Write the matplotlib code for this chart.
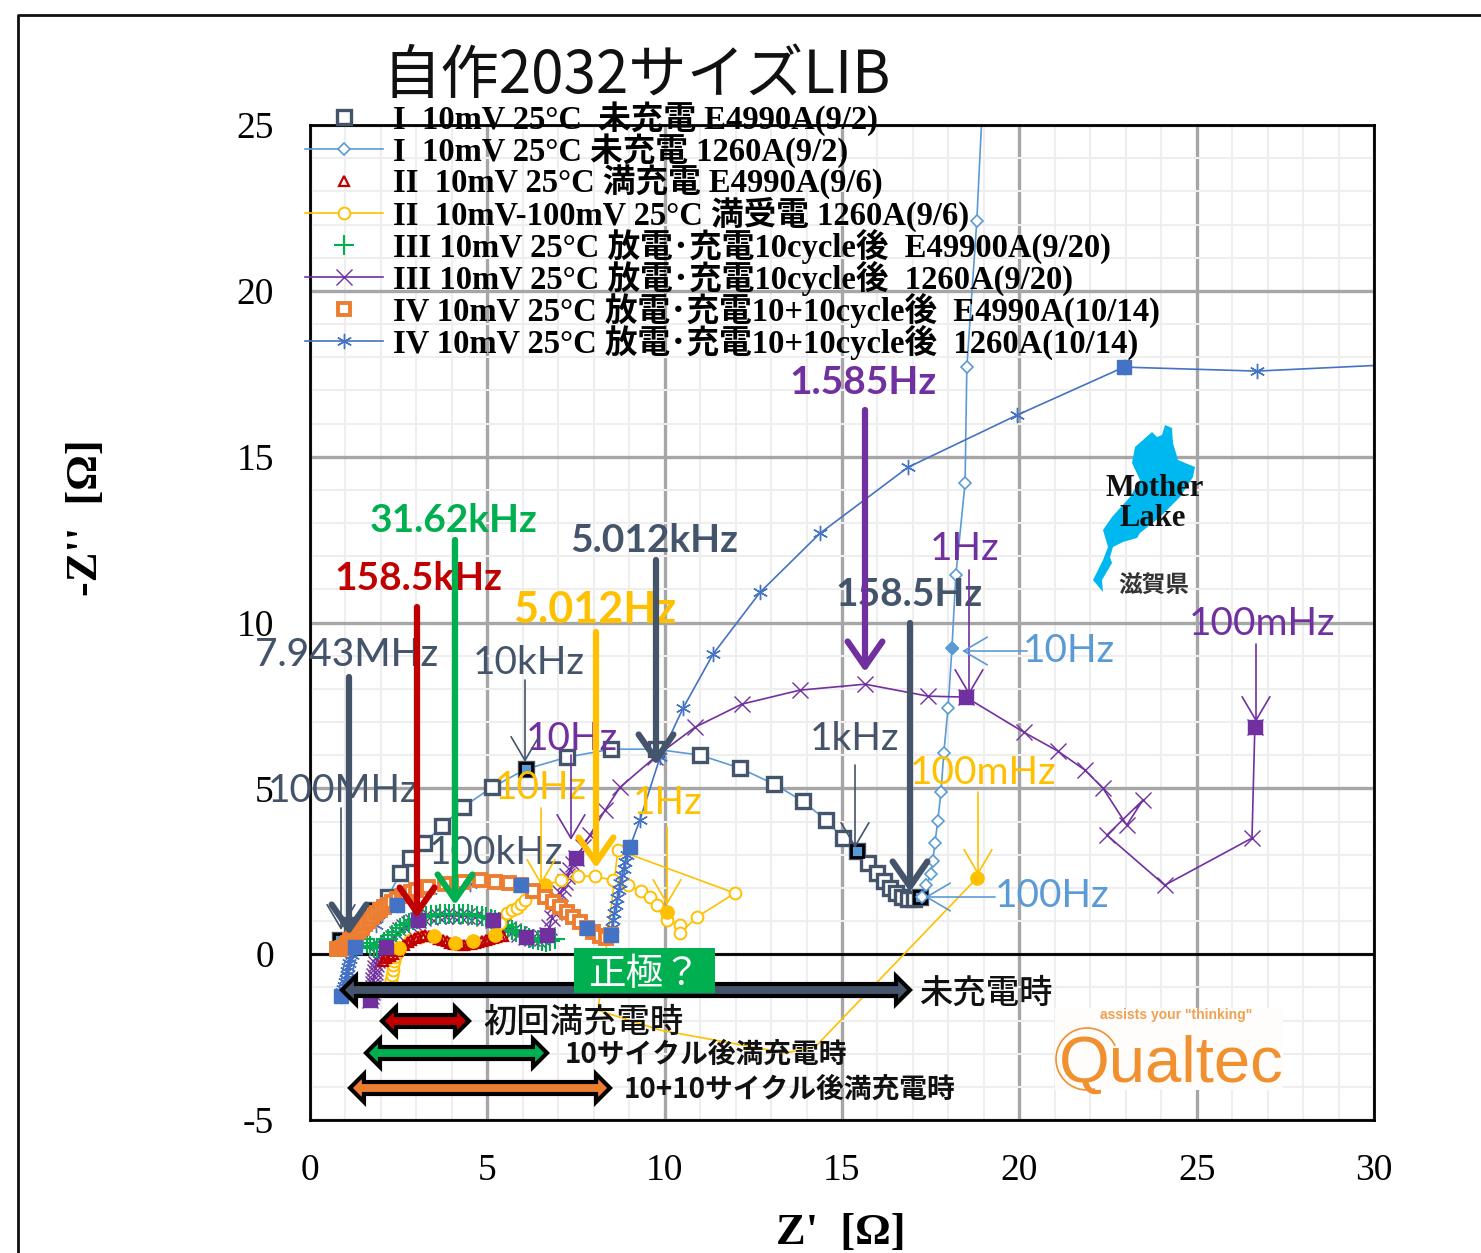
import matplotlib
matplotlib.use('Agg')
import matplotlib.pyplot as plt
from matplotlib.font_manager import FontProperties
from matplotlib.patches import Polygon, Rectangle, Arc
from matplotlib.ticker import MultipleLocator

plt.rcParams['axes.unicode_minus'] = False

# colours
SLATE = '#44546A'
LBLUE = '#5B9BD5'
RED = '#C00000'
YELLOW = '#FFC000'
GREEN = '#00B050'
PURPLE = '#7030A0'
ORANGE = '#ED7D31'
BLUE = '#4472C4'

SERIF = ['Liberation Serif', 'Noto Sans CJK JP']
JP = ['Noto Sans CJK JP', 'DejaVu Sans']

labels = ['I  10mV 25°C  未充電 E4990A(9/2)',
          'I  10mV 25°C 未充電 1260A(9/2)',
          'II  10mV 25°C 満充電 E4990A(9/6)',
          'II  10mV-100mV 25°C 満受電 1260A(9/6)',
          'III 10mV 25°C 放電･充電10cycle後  E49900A(9/20)',
          'III 10mV 25°C 放電･充電10cycle後  1260A(9/20)',
          'IV 10mV 25°C 放電･充電10+10cycle後  E4990A(10/14)',
          'IV 10mV 25°C 放電･充電10+10cycle後  1260A(10/14)']

# I, E4990A
x1 = [0.85, 1.18, 1.86, 2.2, 2.54, 2.82, 3.21, 3.72, 4.31, 5.13, 6.09, 7.25, 8.49, 9.75, 11.0, 12.12,
      13.08, 13.9, 14.55, 15.03, 15.42, 15.73, 15.99, 16.18, 16.35, 16.52, 16.69, 16.86, 17.03, 17.2]
y1 = [0.42, 0.87, 1.33, 1.72, 2.44, 2.89, 3.35, 3.86, 4.43, 5.03, 5.58, 5.94, 6.18, 6.18, 6.0, 5.61,
      5.13, 4.61, 4.04, 3.5, 3.1, 2.74, 2.44, 2.2, 1.99, 1.84, 1.72, 1.66, 1.66, 1.72]
dec1_x = [0.85, 1.86, 6.09, 15.42, 17.2]
dec1_y = [0.42, 1.33, 5.58, 3.1, 1.72]

# I, 1260A
x2 = [17.25, 17.37, 17.51, 17.56, 17.62, 17.7, 17.79, 17.87, 17.99, 18.1, 18.21, 18.47, 18.52, 18.8, 19.0]
y2 = [1.72, 2.08, 2.41, 2.8, 3.35, 4.01, 4.88, 6.06, 7.42, 9.23, 11.43, 14.2, 17.7, 22.1, 26.5]

# II, E4990A
x3 = [2.05, 2.15, 2.25, 2.35, 2.45, 2.55, 2.65, 2.75, 2.85, 2.95, 3.05, 3.15, 3.25, 3.35, 3.45, 3.55, 3.65, 3.75,
      3.85, 3.95, 4.05, 4.15, 4.25, 4.35, 4.45, 4.55, 4.65, 4.75, 4.85, 4.95, 5.05, 5.15, 5.25, 5.35, 5.45]
y3 = [-0.2, -0.12, -0.05, 0.02, 0.1, 0.18, 0.27, 0.36, 0.43, 0.49, 0.53, 0.56, 0.57, 0.56, 0.54, 0.51, 0.47, 0.43,
      0.39, 0.35, 0.32, 0.3, 0.29, 0.29, 0.3, 0.32, 0.34, 0.36, 0.39, 0.42, 0.45, 0.48, 0.51, 0.54, 0.56]

# II, 1260A
x4 = [2.26, 2.29, 2.31, 2.33, 2.34, 2.37, 2.40, 2.45, 2.51, 2.82, 3.10, 3.50, 4.09, 4.60, 5.22, 5.35, 5.55, 5.7,
      5.84, 5.95, 6.06, 6.3, 6.63, 7.08, 7.56, 8.04, 8.54, 8.97, 9.33, 9.59, 9.78, 10.07, 10.07, 10.43, 10.43, 10.91,
      11.98, 8.68, 8.40, 8.12, 9.87, 13.41, 14.24, 18.8]
y4 = [-0.93, -0.78, -0.63, -0.48, -0.33, -0.21, -0.09, 0.05, 0.18, 0.42, 0.51, 0.54, 0.33, 0.39, 0.57, 0.95, 1.24, 1.32,
      1.39, 1.5, 1.63, 1.88, 2.08, 2.23, 2.35, 2.35, 2.23, 2.08, 1.9, 1.72, 1.48, 1.27, 1.03, 0.87, 0.63, 1.12,
      1.84, 3.14, 0.57, -1.69, -2.29, -2.98, -2.8, 2.29]
dec4_x = [2.51, 3.50, 4.09, 4.60, 5.22, 6.63, 10.07, 18.8]
dec4_y = [0.18, 0.54, 0.33, 0.39, 0.57, 2.08, 1.27, 2.29]

# III, E4990A
x5 = [1.5, 1.6, 1.7, 1.8, 1.9, 2.0, 2.1, 2.2, 2.3, 2.42, 2.54, 2.66, 2.78, 2.9, 3.02, 3.15, 3.28, 3.41, 3.54, 3.67,
      3.8, 3.93, 4.06, 4.19, 4.32, 4.45, 4.58, 4.71, 4.84, 4.97, 5.1, 5.22, 5.34, 5.46, 5.58, 5.7, 5.82, 5.94, 6.06,
      6.18, 6.3, 6.42, 6.54, 6.66, 6.78, 6.9]
y5 = [0.45, 0.35, 0.25, 0.18, 0.2, 0.27, 0.37, 0.47, 0.58, 0.68, 0.78, 0.87, 0.95, 1.02, 1.07, 1.11, 1.14, 1.17, 1.19, 1.2,
      1.21, 1.22, 1.22, 1.22, 1.21, 1.2, 1.18, 1.16, 1.14, 1.11, 1.07, 1.02, 0.96, 0.89, 0.81, 0.74, 0.66, 0.6, 0.54,
      0.49, 0.45, 0.42, 0.39, 0.38, 0.4, 0.46]

# III, 1260A
x6 = [1.69, 1.72, 1.75, 1.77, 1.78, 1.79, 1.80, 1.82, 1.83, 1.86, 1.89, 1.93, 1.97, 2.05, 2.14, 2.24, 2.34, 2.44, 2.54,
      2.66, 2.79, 2.91, 3.04, 3.2, 3.38, 3.6, 3.81, 4.02, 4.23, 4.44, 4.65, 4.9, 5.16, 5.3, 5.44, 5.58, 5.72, 5.9, 6.09,
      6.25, 6.4, 6.55, 6.68, 6.75, 6.82, 6.87, 6.91, 6.98, 7.05, 7.12, 7.19, 7.26, 7.33, 7.42, 7.5, 7.7, 7.89, 8.32, 8.74,
      9.73, 10.85, 12.18, 13.81, 15.65, 17.42, 18.49, 20.13, 21.09, 21.85, 22.36, 23.03, 23.48, 22.47, 24.1, 26.56, 26.64]
y6 = [-1.39, -1.27, -1.15, -1.03, -0.9, -0.78, -0.66, -0.54, -0.42, -0.3, -0.18, -0.07, 0.03, 0.12, 0.21, 0.35, 0.48, 0.6, 0.72,
      0.81, 0.9, 0.97, 1.03, 1.08, 1.12, 1.14, 1.15, 1.15, 1.15, 1.14, 1.12, 1.08, 1.03, 0.94, 0.84, 0.76, 0.69, 0.6, 0.51,
      0.48, 0.45, 0.5, 0.57, 0.83, 1.09, 1.28, 1.48, 1.66, 1.84, 2.0, 2.17, 2.35, 2.53, 2.71, 2.89, 3.24, 3.59, 4.34, 5.03,
      5.94, 6.84, 7.54, 7.96, 8.14, 7.78, 7.75, 6.69, 6.12, 5.55, 5.0, 3.89, 4.64, 3.59, 2.08, 3.5, 6.84]
dec6_x = [1.69, 2.14, 3.04, 5.16, 6.09, 6.68, 7.5, 18.49, 26.64]
dec6_y = [-1.39, 0.21, 1.03, 1.03, 0.51, 0.57, 2.89, 7.75, 6.84]

# IV, E4990A
x7 = [0.75, 0.82, 0.9, 0.98, 1.06, 1.14, 1.22, 1.3, 1.38, 1.46, 1.55, 1.65, 1.75, 1.86, 1.97, 2.08, 2.2, 2.32, 2.45, 2.58,
      2.71, 2.85, 2.99, 3.33, 3.81, 4.31, 4.79, 5.22, 5.61, 5.95, 6.29, 6.63, 6.85, 7.05, 7.25, 7.41, 7.61, 7.81, 7.98, 8.18,
      8.35, 8.49]
y7 = [0.15, 0.17, 0.2, 0.25, 0.33, 0.42, 0.5, 0.6, 0.69, 0.8, 0.9, 1.01, 1.12, 1.23, 1.33, 1.41, 1.48, 1.57, 1.66, 1.74,
      1.81, 1.87, 1.93, 2.02, 2.11, 2.17, 2.23, 2.17, 2.14, 2.08, 1.9, 1.72, 1.57, 1.42, 1.27, 1.12, 0.96, 0.78, 0.66, 0.54,
      0.48, 0.57]

# IV, 1260A
x8 = [0.86, 0.9, 0.93, 0.96, 0.98, 1.01, 1.03, 1.04, 1.07, 1.1, 1.14, 1.18, 1.27, 1.86, 2.45, 3.38, 4.51, 5.95, 6.91, 7.81,
      8.49, 8.51, 8.54, 8.58, 8.63, 8.67, 8.71, 8.75, 8.8, 8.84, 8.88, 8.95, 9.02, 9.3, 9.87, 10.52, 11.36, 12.69, 14.38, 16.86,
      19.93, 22.95, 26.7, 31.0]
y8 = [-1.25, -1.15, -1.05, -0.95, -0.85, -0.75, -0.63, -0.5, -0.38, -0.27, -0.15, -0.03, 0.21, 0.87, 1.48, 1.93, 2.11, 2.08, 1.48, 0.78,
      0.57, 0.8, 1.03, 1.25, 1.48, 1.7, 1.93, 2.15, 2.38, 2.58, 2.77, 3.0, 3.23, 4.04, 5.94, 7.42, 9.04, 10.91, 12.69, 14.68,
      16.25, 17.7, 17.58, 17.8]
dec8_x = [0.86, 1.27, 2.45, 5.95, 7.81, 8.49, 9.02, 22.95]
dec8_y = [-1.25, 0.21, 1.48, 2.08, 0.78, 0.57, 3.23, 17.7]

xticks = [0, 5, 10, 15, 20, 25, 30]
yticks = [-5, 0, 5, 10, 15, 20, 25]

fig = plt.figure(figsize=(14.81, 12.53), dpi=100, facecolor='white')
ax = fig.add_axes([310 / 1481, 1 - 1120 / 1253, (1374 - 310) / 1481, (1120 - 125) / 1253])
ax.set_xlim(0, 30)
ax.set_ylim(-5, 25)
ax.set_xticks(xticks)
ax.set_yticks(yticks)
ax.xaxis.set_minor_locator(MultipleLocator(1))
ax.yaxis.set_minor_locator(MultipleLocator(1))
ax.grid(which='minor', color='#eeeeee', lw=1.5)
ax.grid(which='major', color='#a6a6a6', lw=2.4)
ax.set_axisbelow(True)
ax.tick_params(which='both', length=0)
ax.tick_params(axis='x', pad=24)
ax.tick_params(axis='y', pad=26)
for t in ax.get_xticklabels() + ax.get_yticklabels():
    t.set_fontproperties(FontProperties(family='Liberation Serif', size=27))
for s in ax.spines.values():
    s.set_linewidth(2)
    s.set_color('black')
ax.axhline(0, color='black', lw=2)

# connecting line of the first series has no legend entry
ax.plot(x1, y1, color=LBLUE, lw=1.2)
ax.plot(x1, y1, ls='none', marker='s', ms=9.5, mfc='white', mec=SLATE, mew=2.4, label=labels[0])
ax.plot(dec1_x, dec1_y, ls='none', marker='s', ms=8.5, mfc=LBLUE, mec='black', mew=2)
ax.plot(x2, y2, color=LBLUE, lw=1.2, marker='D', ms=6.5, mfc='white', mec=LBLUE, mew=1.2, label=labels[1])
ax.plot(x2[9], y2[9], marker='D', ms=6.5, color=LBLUE)
ax.plot(x6, y6, color=PURPLE, lw=1.2, marker='x', ms=12, mew=1, label=labels[5])
ax.plot(x5, y5, ls='none', color=GREEN, marker='+', ms=14, mew=1.5, label=labels[4])
ax.plot(x4, y4, color=YELLOW, lw=1.2, marker='o', ms=8.5, mfc='white', mec=YELLOW, mew=1.4,
        markevery=list(range(len(x4) - 5)), label=labels[3])
ax.plot(x3, y3, ls='none', marker='^', ms=7, mfc='none', mec=RED, mew=1.6, label=labels[2])
ax.plot(dec4_x, dec4_y, ls='none', marker='o', ms=9.5, color=YELLOW)
ax.plot(x8, y8, color=BLUE, lw=1.2, marker=(6, 2, 0), ms=11, mew=1, label=labels[7])
ax.plot(x7, y7, ls='none', marker='s', ms=9, mfc='white', mec=ORANGE, mew=2.8, label=labels[6])
ax.plot(dec6_x, dec6_y, ls='none', marker='s', ms=9.5, color=PURPLE)
ax.plot(dec8_x, dec8_y, ls='none', marker='s', ms=10, color=BLUE)

lab_font = FontProperties(family='Liberation Serif', weight='bold', size=32)
ax.set_xlabel("Z'  [Ω]", fontproperties=lab_font)
ax.set_ylabel("-Z''  [Ω]", fontproperties=lab_font)
ax.xaxis.set_label_coords((841 - 310) / 1064, -(1213 - 1120) / 995, transform=ax.transAxes)
ax.yaxis.set_label_coords((106 - 310) / 1064, (1120 - 518) / 995, transform=ax.transAxes)

hs, ls = ax.get_legend_handles_labels()
pairs = sorted(zip(hs, ls), key=lambda p: labels.index(p[1]))
leg = ax.legend([p[0] for p in pairs], [p[1] for p in pairs], loc='upper left',
                bbox_to_anchor=(305 / 1481, 1 - 101 / 1253), bbox_transform=fig.transFigure,
                frameon=False, borderpad=0, borderaxespad=0, handlelength=2.4, handletextpad=0.3,
                labelspacing=-0.097, prop=FontProperties(family=SERIF, weight='bold', size=23.5))

# everything drawn on the page in pixel coordinates
ov = fig.add_axes([0, 0, 1, 1], facecolor='none')
ov.set_xlim(0, 1481)
ov.set_ylim(1253, 0)
ov.axis('off')

ov.plot([18, 18, 1481], [1253, 15, 15], color='#111111', lw=2)
ov.text(637, 76, '自作2032サイズLIB', family=JP, fontsize=42, color='#111111', ha='center', va='center')

def label(x, y, s, color, weight='normal', size=28, family='Lato'):
    ov.text(x, y + 2, s, color=color, fontsize=size, fontweight=weight, family=family, ha='center', va='center')

label(347, 653, '7.943MHz', SLATE, 'medium')
label(343, 789, '100MHz', SLATE)
label(418, 577, '158.5kHz', RED, 'bold')
label(454, 518, '31.62kHz', GREEN, 'bold')
label(654, 539, '5.012kHz', SLATE, 'bold')
label(595, 608, '5.012Hz', YELLOW, 'bold', 31)
label(529, 661, '10kHz', SLATE)
label(572, 737, '10Hz', PURPLE)
label(541, 786, '10Hz', YELLOW)
label(668, 801, '1Hz', YELLOW)
label(496, 851, '100kHz', SLATE)
label(855, 737, '1kHz', SLATE)
label(909, 593, '158.5Hz', SLATE, 'bold')
label(965, 547, '1Hz', PURPLE)
label(1069, 649, '10Hz', LBLUE)
label(1052, 894, '100Hz', LBLUE)
label(983, 771, '100mHz', YELLOW)
label(1262, 622, '100mHz', PURPLE)
label(863, 380, '1.585Hz', PURPLE, 'bold')

def arrow(x0, y0, x1_, y1_, color, thick=False):
    if thick:
        st, lw = '->,head_length=18,head_width=12.5', 4.5
    else:
        st, lw = '->,head_length=17,head_width=10', 1.2
    ov.annotate('', xy=(x1_, y1_), xytext=(x0, y0),
                arrowprops=dict(arrowstyle=st, color=color, lw=lw, shrinkA=0, shrinkB=0, mutation_scale=1))

arrow(349, 677, 349, 935, SLATE, True)
arrow(417, 607, 417, 918, RED, True)
arrow(455, 540, 455, 905, GREEN, True)
arrow(656, 560, 656, 765, SLATE, True)
arrow(596, 632, 596, 868, YELLOW, True)
arrow(865, 410, 865, 672, PURPLE, True)
arrow(910, 623, 910, 892, SLATE, True)
arrow(341, 808, 341, 930, SLATE)
arrow(525, 680, 525, 762, SLATE)
arrow(571, 755, 571, 840, PURPLE)
arrow(541, 808, 541, 885, YELLOW)
arrow(667, 827, 667, 905, YELLOW)
arrow(855, 765, 855, 848, SLATE)
arrow(969, 570, 969, 695, PURPLE)
arrow(1027, 651, 962, 651, LBLUE)
arrow(995, 897, 925, 897, LBLUE)
arrow(978, 792, 978, 875, YELLOW)
arrow(1256, 644, 1256, 722, PURPLE)

def double_arrow(x0, x1_, y, color):
    b, h, l = 6, 14, 14
    pts = [(x0, y), (x0 + l, y - h), (x0 + l, y - b), (x1_ - l, y - b), (x1_ - l, y - h), (x1_, y),
           (x1_ - l, y + h), (x1_ - l, y + b), (x0 + l, y + b), (x0 + l, y + h)]
    ov.add_patch(Polygon(pts, closed=True, fc=color, ec='black', lw=3, joinstyle='miter'))

double_arrow(342, 910, 990, SLATE)
double_arrow(382, 469, 1021, RED)
double_arrow(366, 547, 1053, GREEN)
double_arrow(350, 610, 1088, ORANGE)

label(986, 991, '未充電時', '#111111', 'medium', 24, JP)
label(583, 1020, '初回満充電時', '#111111', 'medium', 24, JP)
label(706, 1053, '10サイクル後満充電時', '#111111', 'bold', 20, JP)
label(790, 1088, '10+10サイクル後満充電時', '#111111', 'bold', 20, JP)

ov.add_patch(Rectangle((574, 948), 141, 45, fc=GREEN, ec='none'))
label(644, 972, '正極？', 'white', 'normal', 27, JP)

# lake
lake_x = [1165, 1172, 1173, 1178, 1195, 1193, 1180, 1160, 1140, 1137, 1123, 1113, 1110, 1112, 1102, 1103,
          1093, 1103, 1108, 1103, 1112, 1130, 1140, 1132, 1135, 1143, 1152, 1157, 1162]
lake_y = [425, 428, 443, 460, 467, 477, 497, 517, 533, 538, 542, 547, 557, 563, 580, 592,
          580, 560, 547, 530, 517, 497, 480, 463, 447, 440, 432, 437, 435]
ov.add_patch(Polygon(list(zip(lake_x, lake_y)), closed=True, fc='#00B8F0', ec='none'))
label(1155, 487, 'Mother', '#111111', 'bold', 22, 'Liberation Serif')
label(1153, 516, 'Lake', '#111111', 'bold', 22, 'Liberation Serif')
label(1154, 583, '滋賀県', '#333333', 'bold', 17, JP)

# logo
ov.add_patch(Rectangle((1055, 1008), 228, 82, fc='#FEFDFC', ec='none'))
ov.add_patch(Arc((1087, 1059), 62, 62, theta1=75, theta2=335, color='#F0902F', lw=1.2))
ov.text(1171, 1065, 'Qualtec', color='#F0902F', fontsize=47, family='Liberation Sans', ha='center', va='center')
ov.text(1176, 1015, 'assists your "thinking"', color='#F0A050', fontsize=10, fontweight='bold',
        family='Liberation Sans', ha='center', va='center')

fig.savefig('out.png', dpi=100)
